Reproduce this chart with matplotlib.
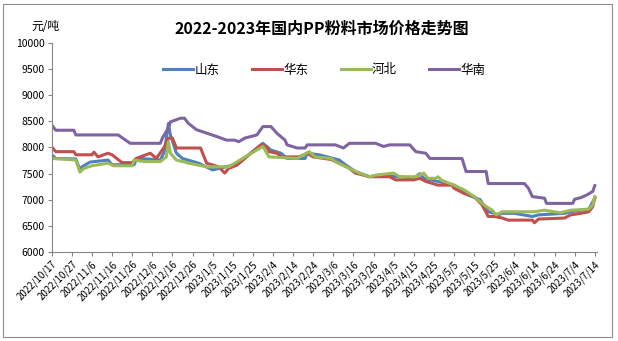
import matplotlib.pyplot as plt
import pandas as pd
from matplotlib.patches import Rectangle

plt.rcParams['font.family'] = ['Noto Sans CJK SC', 'DejaVu Sans']

# data (change points of each series)
shandong_dates = ['2022-10-17', '2022-10-19', '2022-10-29', '2022-10-31', '2022-11-01', '2022-11-05',
                  '2022-11-14', '2022-11-16', '2022-11-27', '2022-11-28', '2022-11-30', '2022-12-10',
                  '2022-12-12', '2022-12-14', '2022-12-15', '2022-12-18', '2022-12-21', '2022-12-29',
                  '2023-01-05', '2023-01-17', '2023-01-30', '2023-02-03', '2023-02-08', '2023-02-11',
                  '2023-02-20', '2023-02-21', '2023-02-27', '2023-03-05', '2023-03-09', '2023-03-12',
                  '2023-03-17', '2023-03-24', '2023-03-29', '2023-04-08', '2023-04-15', '2023-04-18',
                  '2023-04-20', '2023-04-27', '2023-05-05', '2023-05-12', '2023-05-18', '2023-05-22',
                  '2023-05-25', '2023-05-27', '2023-05-29', '2023-06-04', '2023-06-13', '2023-06-16',
                  '2023-06-29', '2023-07-02', '2023-07-07', '2023-07-11', '2023-07-14']
shandong_vals = [7860, 7790, 7780, 7570, 7630, 7720,
                 7760, 7670, 7670, 7770, 7790, 7760,
                 7920, 8460, 8240, 7890, 7790, 7700,
                 7570, 7680, 8080, 7950, 7890, 7790,
                 7790, 7890, 7860, 7800, 7760, 7670,
                 7540, 7440, 7470, 7440, 7410, 7500,
                 7410, 7350, 7280, 7090, 7000, 6770,
                 6740, 6710, 6740, 6740, 6680, 6710,
                 6740, 6770, 6800, 6820, 7030]

huadong_dates = ['2022-10-17', '2022-10-19', '2022-10-28', '2022-10-29', '2022-11-06', '2022-11-07',
                 '2022-11-09', '2022-11-14', '2022-11-16', '2022-11-21', '2022-11-26', '2022-11-28',
                 '2022-11-30', '2022-12-05', '2022-12-08', '2022-12-12', '2022-12-14', '2022-12-16',
                 '2022-12-18', '2022-12-30', '2023-01-02', '2023-01-08', '2023-01-11', '2023-01-13',
                 '2023-01-17', '2023-01-29', '2023-02-01', '2023-02-02', '2023-02-06', '2023-02-08',
                 '2023-02-17', '2023-02-21', '2023-02-24', '2023-03-05', '2023-03-11', '2023-03-14',
                 '2023-03-17', '2023-03-24', '2023-04-03', '2023-04-06', '2023-04-15', '2023-04-18',
                 '2023-04-21', '2023-04-27', '2023-05-04', '2023-05-05', '2023-05-10', '2023-05-15',
                 '2023-05-19', '2023-05-22', '2023-05-25', '2023-05-29', '2023-06-01', '2023-06-13',
                 '2023-06-14', '2023-06-16', '2023-06-29', '2023-07-02', '2023-07-07', '2023-07-11',
                 '2023-07-13', '2023-07-14']
huadong_vals = [8010, 7920, 7920, 7860, 7860, 7910,
                7820, 7890, 7860, 7710, 7710, 7790,
                7820, 7890, 7790, 8010, 8180, 8180,
                7990, 7990, 7700, 7630, 7510, 7600,
                7660, 8050, 8010, 7920, 7890, 7820,
                7820, 7890, 7820, 7770, 7660, 7600,
                7510, 7440, 7440, 7380, 7380, 7410,
                7350, 7280, 7280, 7220, 7120, 7060,
                6900, 6680, 6680, 6650, 6610, 6610,
                6560, 6630, 6650, 6710, 6740, 6770,
                6870, 7030]

hebei_dates = ['2022-10-17', '2022-10-29', '2022-10-31', '2022-11-02', '2022-11-06', '2022-11-14',
               '2022-11-17', '2022-11-26', '2022-11-27', '2022-12-02', '2022-12-10', '2022-12-13',
               '2022-12-14', '2022-12-15', '2022-12-18', '2022-12-24', '2023-01-02', '2023-01-13',
               '2023-01-16', '2023-01-30', '2023-02-02', '2023-02-16', '2023-02-22', '2023-02-25',
               '2023-03-05', '2023-03-07', '2023-03-14', '2023-03-19', '2023-03-24', '2023-03-27',
               '2023-04-05', '2023-04-08', '2023-04-16', '2023-04-20', '2023-04-22', '2023-04-26',
               '2023-04-27', '2023-04-29', '2023-05-05', '2023-05-10', '2023-05-15', '2023-05-21',
               '2023-05-24', '2023-05-26', '2023-05-29', '2023-06-14', '2023-06-19', '2023-06-27',
               '2023-07-02', '2023-07-11', '2023-07-13', '2023-07-14']
hebei_vals = [7790, 7760, 7530, 7600, 7650, 7700,
              7650, 7650, 7760, 7730, 7730, 7820,
              8110, 7890, 7760, 7700, 7630, 7630,
              7700, 8020, 7820, 7790, 7920, 7820,
              7790, 7730, 7600, 7510, 7440, 7470,
              7510, 7440, 7440, 7510, 7410, 7410,
              7440, 7370, 7280, 7190, 7060, 6870,
              6800, 6710, 6770, 6770, 6800, 6750,
              6800, 6820, 6900, 7060]

huanan_dates = ['2022-10-17', '2022-10-19', '2022-10-28', '2022-10-29', '2022-11-19', '2022-11-25',
                '2022-12-10', '2022-12-11', '2022-12-14', '2022-12-15', '2022-12-20', '2022-12-22',
                '2022-12-24', '2022-12-28', '2023-01-07', '2023-01-12', '2023-01-16', '2023-01-18',
                '2023-01-21', '2023-01-27', '2023-01-30', '2023-02-03', '2023-02-06', '2023-02-10',
                '2023-02-11', '2023-02-16', '2023-02-20', '2023-02-21', '2023-03-07', '2023-03-11',
                '2023-03-14', '2023-03-27', '2023-03-31', '2023-04-03', '2023-04-13', '2023-04-16',
                '2023-04-21', '2023-04-23', '2023-05-09', '2023-05-11', '2023-05-21', '2023-05-22',
                '2023-06-09', '2023-06-11', '2023-06-13', '2023-06-19', '2023-06-20', '2023-07-03',
                '2023-07-04', '2023-07-07', '2023-07-10', '2023-07-13', '2023-07-14']
huanan_vals = [8430, 8330, 8330, 8240, 8240, 8080,
               8080, 8180, 8370, 8490, 8560, 8560,
               8460, 8340, 8210, 8140, 8140, 8110,
               8180, 8240, 8400, 8400, 8270, 8140,
               8050, 7990, 7990, 8050, 8050, 7990,
               8080, 8080, 8020, 8050, 8050, 7920,
               7890, 7790, 7790, 7540, 7540, 7310,
               7310, 7220, 7060, 7030, 6930, 6930,
               7010, 7040, 7090, 7160, 7270]

series = [('山东', shandong_dates, shandong_vals, '#4F81BD'),
          ('华东', huadong_dates, huadong_vals, '#C0504D'),
          ('河北', hebei_dates, hebei_vals, '#9BBB59'),
          ('华南', huanan_dates, huanan_vals, '#8064A2')]

tick_dates = pd.date_range('2022-10-17', '2023-07-14', freq='10D')
tick_labels = [f'{d.year}/{d.month}/{d.day}' for d in tick_dates]

fig = plt.figure(figsize=(6.18, 3.41), dpi=100)
fig.patches.append(Rectangle((3 / 618, 4 / 341), 609 / 618, 333 / 341, transform=fig.transFigure,
                             fill=False, edgecolor='#8c8c8c', linewidth=0.8))
ax = fig.add_axes([0.0837, 0.261, 0.882, 0.613])

for name, dates, vals, color in series:
    ax.plot(pd.to_datetime(dates), vals, color=color, linewidth=2.2, label=name,
            solid_joinstyle='round')

ax.set_ylim(6000, 10000)
ax.set_yticks(range(6000, 10001, 500))
ax.set_xlim(pd.Timestamp('2022-10-17'), pd.Timestamp('2023-07-15'))
ax.set_xticks(tick_dates)
ax.set_xticklabels(tick_labels, rotation=45, ha='right', rotation_mode='anchor', fontsize=7)
ax.tick_params(axis='y', labelsize=7.5, length=3, color='#868686', pad=2)
ax.tick_params(axis='x', length=3, color='#868686', pad=2)
for s in ['top', 'right']:
    ax.spines[s].set_visible(False)
for s in ['left', 'bottom']:
    ax.spines[s].set_color('#868686')

fig.text(0.521, 1 - 29 / 341, '2022-2023年国内PP粉料市场价格走势图', ha='center', va='center',
         fontsize=11.5, fontweight='bold')
fig.text(45 / 618, 1 - 27 / 341, '元/吨', ha='center', va='center', fontsize=8.5)

ax.legend(loc='center', bbox_to_anchor=(0.525, 1 - 70 / 341), bbox_transform=fig.transFigure,
          ncol=4, frameon=False, fontsize=9, handlelength=2.4, handletextpad=0.1,
          columnspacing=2.6)

fig.savefig('out.png', dpi=100)
